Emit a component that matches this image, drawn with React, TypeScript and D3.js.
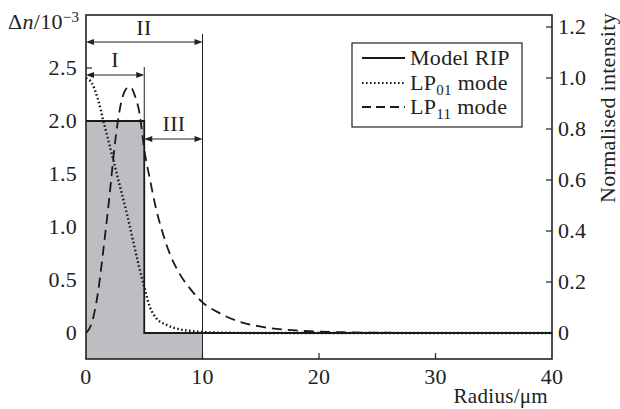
import React from "react";
import * as d3 from "d3";

// Model refractive-index profile (Δn, 10^-3) vs radius (µm)
const ripR = [0, 5, 5, 40];
const ripDn = [2.0, 2.0, 0, 0];

// LP01 mode normalised intensity
const lp01R = [0, 0.5, 1.0, 1.5, 2.0, 2.5, 3.0, 3.5, 4.0, 4.5, 5.0, 5.5, 6.0, 7.0, 8.0, 9.0, 10, 12, 15, 20, 30, 40];
const lp01I = [1.0, 0.98, 0.92, 0.83, 0.74, 0.65, 0.56, 0.47, 0.37, 0.27, 0.18, 0.1, 0.06, 0.03, 0.015, 0.008, 0.004, 0.001, 0, 0, 0, 0];

// LP11 mode normalised intensity
const lp11R = [0, 0.5, 1.0, 1.5, 2.0, 2.5, 3.0, 3.5, 3.8, 4.2, 4.6, 5.0, 5.5, 6.0, 6.6, 7.2, 8.0, 9.0, 10, 11.5, 13, 15, 18, 22, 26, 30, 40];
const lp11I = [0, 0.04, 0.15, 0.33, 0.53, 0.75, 0.9, 0.96, 0.965, 0.93, 0.86, 0.72, 0.6, 0.49, 0.39, 0.31, 0.235, 0.17, 0.12, 0.077, 0.047, 0.025, 0.01, 0.003, 0.001, 0, 0];

const xTicks = [0, 10, 20, 30, 40];
const yLeftTicks = [0, 0.5, 1.0, 1.5, 2.0, 2.5];
const yRightTicks = [0, 0.2, 0.4, 0.6, 0.8, 1.0, 1.2];

const FONT = "'Liberation Serif', 'Times New Roman', serif";

export default function App() {
  const X0 = 86, X1 = 552, YT = 15, YB = 359;
  const x = d3.scaleLinear().domain([0, 40]).range([X0, X1]);
  const yL = d3.scaleLinear().domain([0, 2.5]).range([333, 68]);
  const yR = d3.scaleLinear().domain([0, 1.2]).range([333, 27]);

  const rip = ripR.map((r, i) => [r, ripDn[i]] as [number, number]);
  const fillPts = [[0, 2], [5, 2], [5, 0], [10, 0]] as [number, number][];
  const lp01 = lp01R.map((r, i) => [r, lp01I[i]] as [number, number]);
  const lp11 = lp11R.map((r, i) => [r, lp11I[i]] as [number, number]);

  const lineL = d3.line<[number, number]>().x(d => x(d[0])).y(d => yL(d[1]));
  const lineR = d3.line<[number, number]>().x(d => x(d[0])).y(d => yR(d[1])).curve(d3.curveMonotoneX);
  const area = d3.area<[number, number]>().x(d => x(d[0])).y0(YB).y1(d => yL(d[1]));

  const fs = 22;
  const ls = 0.3;

  const arrow = (xa: number, xb: number, y: number, key: string) => {
    const h = 8, w = 3;
    return (
      <g key={key}>
        <line x1={xa + 2} x2={xb - 2} y1={y} y2={y} stroke="#222" strokeWidth={1.2} />
        <path d={`M${xa},${y} L${xa + h},${y - w} L${xa + h},${y + w} Z`} fill="#222" />
        <path d={`M${xb},${y} L${xb - h},${y - w} L${xb - h},${y + w} Z`} fill="#222" />
      </g>
    );
  };

  return (
    <svg width={620} height={409} style={{ position: "absolute", left: 0, top: 0, background: "#fff" }} fontFamily={FONT} letterSpacing={ls}>
      <rect x={0} y={0} width={620} height={409} fill="#fff" />
      {yLeftTicks.map(t => (
        <line key={"lt" + t} x1={X0} x2={X0 + 6} y1={yL(t)} y2={yL(t)} stroke="#222" strokeWidth={1.2} />
      ))}
      <path d={area(fillPts) || ""} fill="#bdbec1" />
      {yRightTicks.map(t => (
        <line key={"rt" + t} x1={X1 - 6} x2={X1} y1={yR(t)} y2={yR(t)} stroke="#222" strokeWidth={1.2} />
      ))}
      {xTicks.slice(1, -1).map(t => (
        <line key={"xt" + t} x1={x(t)} x2={x(t)} y1={YB} y2={YB - 6} stroke="#222" strokeWidth={1.2} />
      ))}

      <line x1={x(10)} x2={x(10)} y1={YB} y2={34} stroke="#222" strokeWidth={1} />
      <line x1={x(5)} x2={x(5)} y1={yL(2)} y2={67} stroke="#222" strokeWidth={1} />

      <path d={lineL(rip) || ""} fill="none" stroke="#1a1a1a" strokeWidth={1.8} />
      <path d={lineR(lp01) || ""} fill="none" stroke="#1a1a1a" strokeWidth={2.4} strokeDasharray="1.6,2.4" />
      <path d={lineR(lp11) || ""} fill="none" stroke="#1a1a1a" strokeWidth={1.8} strokeDasharray="10,6" />

      <rect x={X0} y={YT} width={X1 - X0} height={YB - YT} fill="none" stroke="#222" strokeWidth={1.6} />

      {arrow(x(0), x(10), 42, "II")}
      {arrow(x(0), x(5), 75, "I")}
      {arrow(x(5), x(10), 139, "III")}
      <text x={144} y={35} fontSize={fs} textAnchor="middle" fill="#222">II</text>
      <text x={115} y={67} fontSize={fs} textAnchor="middle" fill="#222">I</text>
      <text x={174} y={131} fontSize={fs} textAnchor="middle" fill="#222">III</text>

      {yLeftTicks.map(t => (
        <text key={"ll" + t} x={77} y={yL(t) + 7} fontSize={fs} textAnchor="end" fill="#222">
          {t === 0 ? "0" : t.toFixed(1)}
        </text>
      ))}
      {yRightTicks.map(t => (
        <text key={"rl" + t} x={558} y={yR(t) + 7} fontSize={fs} textAnchor="start" fill="#222">
          {t === 0 ? "0" : t.toFixed(1)}
        </text>
      ))}
      {xTicks.map(t => (
        <text key={"xl" + t} x={x(t)} y={384} fontSize={fs} textAnchor="middle" fill="#222">{t}</text>
      ))}

      <text x={8} y={29} fontSize={fs} fill="#222">
        <tspan>Δ</tspan><tspan fontStyle="italic">n</tspan><tspan>/10</tspan>
        <tspan dy={-7} fontSize={15}>−3</tspan>
      </text>
      <text x={548} y={403} fontSize={21} textAnchor="end" fill="#222">Radius/μm</text>
      <text transform={`translate(615,${108}) rotate(-90)`} fontSize={fs} textAnchor="middle" fill="#222">Normalised intensity</text>

      <rect x={352} y={43} width={170} height={84} fill="#fff" stroke="#222" strokeWidth={1.2} />
      <line x1={362} x2={405} y1={58} y2={58} stroke="#1a1a1a" strokeWidth={1.8} />
      <line x1={362} x2={405} y1={83} y2={83} stroke="#1a1a1a" strokeWidth={2.2} strokeDasharray="1.6,2.4" />
      <line x1={362} x2={405} y1={107} y2={107} stroke="#1a1a1a" strokeWidth={1.8} strokeDasharray="9,5" />
      <text x={410} y={65} fontSize={fs} fill="#222">Model RIP</text>
      <text x={410} y={90} fontSize={fs} fill="#222">
        <tspan>LP</tspan><tspan dy={5} fontSize={15}>01</tspan><tspan dy={-5}> mode</tspan>
      </text>
      <text x={410} y={114} fontSize={fs} fill="#222">
        <tspan>LP</tspan><tspan dy={5} fontSize={15}>11</tspan><tspan dy={-5}> mode</tspan>
      </text>
    </svg>
  );
}
